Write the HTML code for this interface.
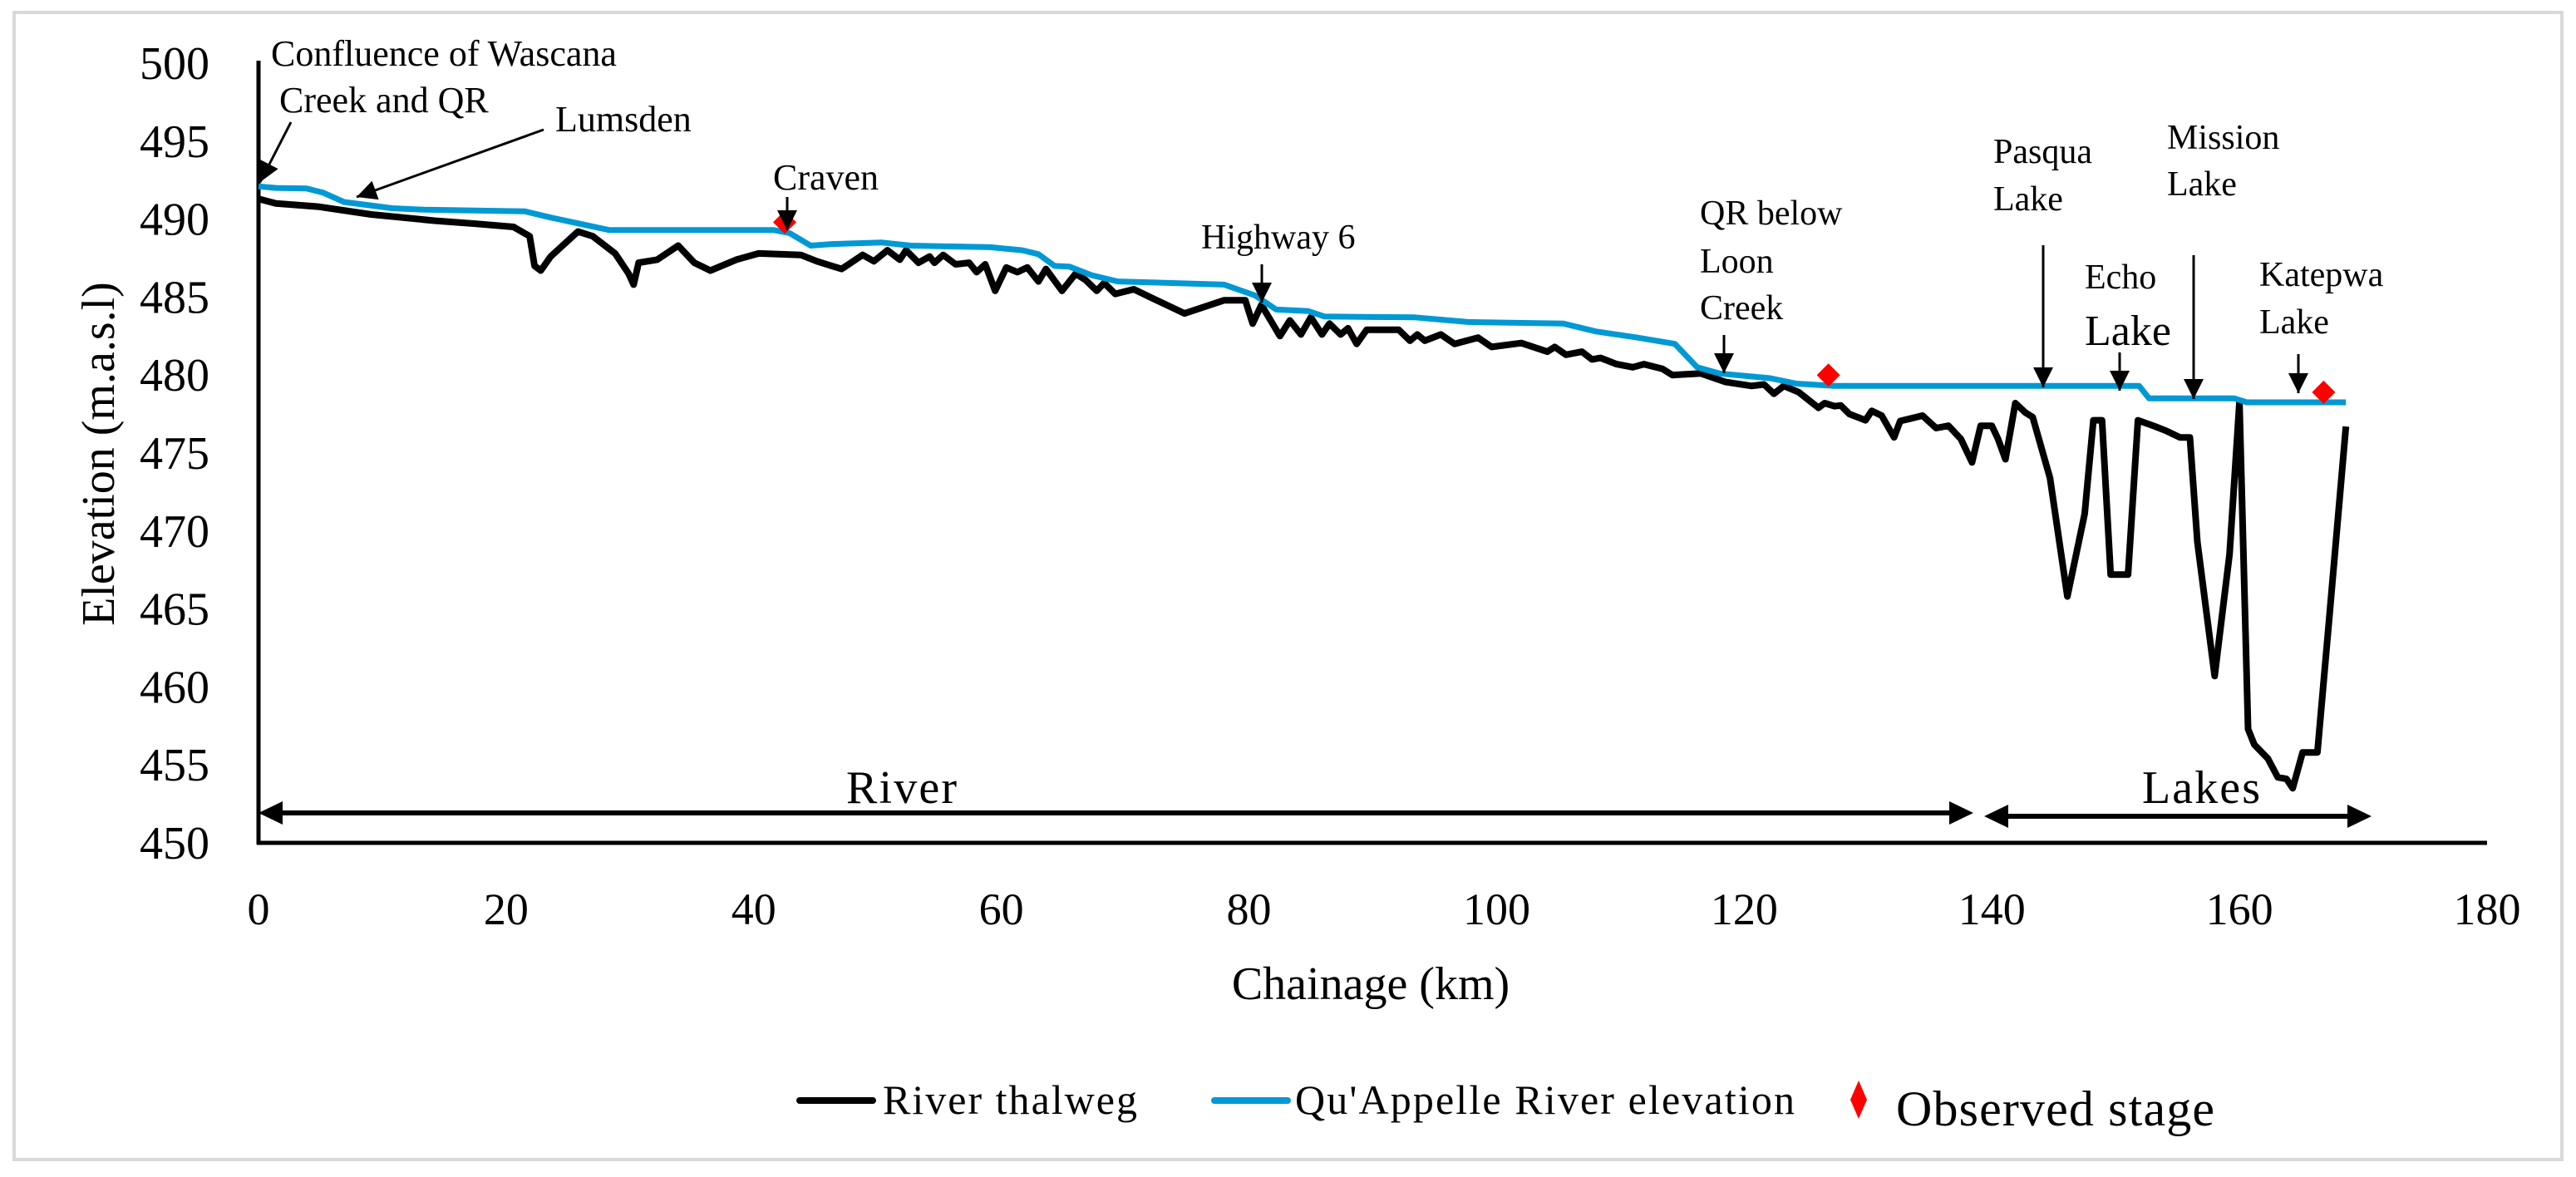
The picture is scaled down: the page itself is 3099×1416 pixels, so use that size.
<!DOCTYPE html>
<html><head><meta charset="utf-8"><style>
html,body{margin:0;padding:0;background:#fff}
svg{display:block}
svg text{font-family:"Liberation Serif",serif;fill:#000}
</style></head><body>
<svg id="chart" width="3099" height="1416" viewBox="0 0 3099 1416" xmlns="http://www.w3.org/2000/svg" font-family="Liberation Serif, serif">
<defs>
<marker id="ah" viewBox="0 0 10 10" refX="10" refY="5" markerWidth="26" markerHeight="24" markerUnits="userSpaceOnUse" orient="auto"><path d="M0,0 L10,5 L0,10 z" fill="#000"/></marker>
</defs>
<rect x="17" y="15" width="3065" height="1380" fill="#fff" stroke="#d9d9d9" stroke-width="4"/>
<g id="axes"></g>
<g id="series"></g>
<g id="annotations">
<text x="326" y="79" font-size="44">Confluence of Wascana</text>
<text x="336" y="135" font-size="44">Creek and QR</text>
<line x1="350" y1="147" x2="313" y2="219" stroke="#000" stroke-width="3" marker-end="url(#ah)"/>
<text x="668" y="158" font-size="44">Lumsden</text>
<line x1="654" y1="156" x2="429" y2="237" stroke="#000" stroke-width="3" marker-end="url(#ah)"/>
<text x="930" y="228" font-size="44">Craven</text>
<line x1="947" y1="237" x2="947" y2="277" stroke="#000" stroke-width="3" marker-end="url(#ah)"/>
<text x="1445" y="299" font-size="42">Highway 6</text>
<line x1="1518" y1="318" x2="1518" y2="364" stroke="#000" stroke-width="3" marker-end="url(#ah)"/>
<text x="2045" y="270" font-size="42">QR below</text>
<text x="2045" y="328" font-size="42">Loon</text>
<text x="2045" y="384" font-size="42">Creek</text>
<line x1="2074" y1="403" x2="2074" y2="449" stroke="#000" stroke-width="3" marker-end="url(#ah)"/>
<text x="2398" y="196" font-size="42">Pasqua</text>
<text x="2398" y="253" font-size="42">Lake</text>
<line x1="2458" y1="295" x2="2458" y2="466" stroke="#000" stroke-width="3" marker-end="url(#ah)"/>
<text x="2508" y="347" font-size="42">Echo</text>
<text x="2508" y="415" font-size="52">Lake</text>
<line x1="2550" y1="424" x2="2550" y2="470" stroke="#000" stroke-width="3" marker-end="url(#ah)"/>
<text x="2607" y="179" font-size="42">Mission</text>
<text x="2607" y="235" font-size="42">Lake</text>
<line x1="2639" y1="307" x2="2639" y2="480" stroke="#000" stroke-width="3" marker-end="url(#ah)"/>
<text x="2718" y="344" font-size="42">Katepwa</text>
<text x="2718" y="401" font-size="42">Lake</text>
<line x1="2765" y1="426" x2="2765" y2="473" stroke="#000" stroke-width="3" marker-end="url(#ah)"/>
<text x="1018" y="966" font-size="56" textLength="133">River</text>
<line x1="340" y1="978" x2="2345" y2="978" stroke="#000" stroke-width="6"/>
<path d="M311,978 L340,964 L340,992 z" fill="#000"/>
<path d="M2374,978 L2345,964 L2345,992 z" fill="#000"/>
<text x="2577" y="966" font-size="56" textLength="142">Lakes</text>
<line x1="2416" y1="982" x2="2824" y2="982" stroke="#000" stroke-width="6"/>
<path d="M2387,982 L2416,968 L2416,996 z" fill="#000"/>
<path d="M2853,982 L2824,968 L2824,996 z" fill="#000"/>
</g>
<g id="legend">
<line x1="962" y1="1324" x2="1050" y2="1324" stroke="#000" stroke-width="8" stroke-linecap="round"/>
<text x="1062" y="1340" font-size="50" textLength="306">River thalweg</text>
<line x1="1461" y1="1324" x2="1549" y2="1324" stroke="#0099d4" stroke-width="8" stroke-linecap="round"/>
<text x="1558" y="1340" font-size="50" textLength="601">Qu'Appelle River elevation</text>
<path d="M2236,1300 L2246,1323 L2236,1346 L2226,1323 z" fill="#ff0000"/>
<text x="2281" y="1354" font-size="60" textLength="383">Observed stage</text>
</g>
</svg>
<script>
const xTicks = [0,20,40,60,80,100,120,140,160,180];
const yTicks = [450,455,460,465,470,475,480,485,490,495,500];
const thalwegKm = [0,1.4,4.8,9.1,14.2,17.6,20.6,21.9,22.3,22.8,23.6,25.8,27.0,28.8,29.9,30.3,30.7,32.2,33.9,35.2,36.5,38.6,40.4,43.8,45.1,46.3,47.1,48.8,49.7,50.8,51.8,52.3,53.3,54.2,54.6,55.3,56.3,57.4,58.0,58.7,59.5,60.4,61.3,62.1,63.0,63.6,64.9,66.0,66.8,67.7,68.3,69.2,70.7,72.0,74.8,78.0,79.7,80.3,81.0,82.5,83.3,84.2,85.0,85.9,86.5,87.4,88.0,88.7,89.5,92.1,93.0,93.6,94.2,95.5,96.6,98.5,99.6,102.0,104.1,104.7,105.6,106.9,107.7,108.4,109.7,111.0,111.9,113.4,114.2,116.5,118.5,120.6,121.6,122.4,123.2,124.4,126.0,126.5,127.3,127.8,128.5,129.8,130.3,131.1,132.1,132.6,133.4,134.4,135.5,136.5,137.5,138.4,139.1,140.0,140.5,141.1,141.9,142.7,143.3,144.7,146.1,147.5,148.2,148.9,149.6,151.0,151.8,153.2,154.0,155.2,156.0,156.6,158.0,159.2,160.0,160.7,161.2,162.3,163.1,163.8,164.3,165.1,166.3,167.3,168.6];
const thalwegElev = [491.3,491.0,490.8,490.3,489.9,489.7,489.5,488.9,487.0,486.7,487.6,489.2,488.9,487.8,486.5,485.8,487.2,487.4,488.3,487.2,486.7,487.4,487.8,487.7,487.3,487.0,486.8,487.7,487.3,488.0,487.4,488.0,487.2,487.6,487.2,487.7,487.1,487.2,486.6,487.1,485.4,486.9,486.6,486.9,486.0,486.8,485.4,486.5,486.1,485.4,485.9,485.2,485.5,485.0,483.95,484.8,484.8,483.3,484.5,482.5,483.5,482.6,483.7,482.6,483.3,482.6,483.0,482.0,482.9,482.9,482.2,482.6,482.2,482.6,482.0,482.4,481.8,482.05,481.5,481.8,481.3,481.5,481.0,481.1,480.7,480.5,480.7,480.4,480.0,480.1,479.55,479.3,479.4,478.8,479.3,478.9,477.9,478.2,478.0,478.05,477.5,477.1,477.7,477.4,476.0,477.05,477.2,477.4,476.6,476.75,475.9,474.4,476.75,476.75,475.9,474.6,478.2,477.6,477.3,473.4,465.8,471.1,477.1,477.1,467.2,467.2,477.1,476.7,476.45,476.0,476.0,469.3,460.7,468.5,478.25,457.3,456.3,455.4,454.2,454.1,453.5,455.8,455.8,464.8,476.7];
const riverKm = [0,1.4,3.9,5.2,6.9,10.8,13.4,21.5,23.6,28.3,41.6,42.9,44.6,46.3,50.3,52.7,59.1,61.7,63.0,64.3,65.5,67.3,69.4,78.0,80.5,82.2,84.8,86.1,93.4,97.7,105.4,108.0,111.4,114.4,116.2,118.0,122.1,124.2,127.3,151.9,152.7,159.6,160.6,168.6];
const riverElev = [492.1,492.0,491.96,491.7,491.1,490.7,490.6,490.5,490.1,489.3,489.3,489.1,488.3,488.4,488.5,488.3,488.2,488.0,487.75,487.0,486.95,486.4,486.0,485.8,485.1,484.2,484.1,483.75,483.7,483.4,483.3,482.8,482.4,482.0,480.5,480.1,479.8,479.45,479.3,479.3,478.5,478.5,478.25,478.25];
const observedKm = [42.5,126.8,166.8];
const observedElev = [489.8,480.0,478.9];

const NS = 'http://www.w3.org/2000/svg';
const X0 = 311, X1 = 2992, Y0 = 1014, Y1 = 76;
function xs(v){ return X0 + (v - 0) / 180 * (X1 - X0); }
function ys(v){ return Y0 - (v - 450) / 50 * (Y0 - Y1); }
function mk(tag, attrs){ const e = document.createElementNS(NS, tag); for (const k in attrs) e.setAttribute(k, attrs[k]); return e; }
const axes = document.getElementById('axes');
const series = document.getElementById('series');

const yAxis = mk('line', {x1:X0, y1:Y1 - 3, x2:X0, y2:Y0 + 2, stroke:'#000', 'stroke-width':5});


axes.appendChild(yAxis);
const xAxis = mk('line', {x1:X0 - 2, y1:Y0, x2:X1, y2:Y0, stroke:'#000', 'stroke-width':5});


axes.appendChild(xAxis);

xTicks.forEach(function(t){
  const tx = mk('text', {x:xs(t), y:1112, 'font-size':54, 'text-anchor':'middle', 'font-family':'Liberation Serif, serif'});
  tx.textContent = t;
  
  
  axes.appendChild(tx);
});
yTicks.forEach(function(t){
  const tx = mk('text', {x:252, y:ys(t) + 19, 'font-size':56, 'text-anchor':'end', 'font-family':'Liberation Serif, serif'});
  tx.textContent = t;
  
  
  axes.appendChild(tx);
});
const xTitle = mk('text', {x:1649, y:1202, 'font-size':56, 'text-anchor':'middle', 'font-family':'Liberation Serif, serif'});
xTitle.textContent = 'Chainage (km)';


axes.appendChild(xTitle);
const yTitle = mk('text', {x:0, y:0, 'font-size':56, 'text-anchor':'middle', 'font-family':'Liberation Serif, serif', transform:'translate(137,546) rotate(-90)'});
yTitle.textContent = 'Elevation (m.a.s.l)';


axes.appendChild(yTitle);

function pts(k, e){ return k.map(function(v, i){ return xs(v).toFixed(1) + ',' + ys(e[i]).toFixed(1); }).join(' '); }
const thal = mk('polyline', {points:pts(thalwegKm, thalwegElev), fill:'none', stroke:'#000', 'stroke-width':8, 'stroke-linejoin':'round'});


series.appendChild(thal);
const riv = mk('polyline', {points:pts(riverKm, riverElev), fill:'none', stroke:'#0099d4', 'stroke-width':7, 'stroke-linejoin':'round'});


series.appendChild(riv);
observedKm.forEach(function(k, i){
  const cx = xs(k), cy = ys(observedElev[i]);
  const d = mk('path', {d:'M' + cx + ',' + (cy - 14) + ' L' + (cx + 14) + ',' + cy + ' L' + cx + ',' + (cy + 14) + ' L' + (cx - 14) + ',' + cy + ' z', fill:'#ff0000'});
  
  
  series.appendChild(d);
});
</script>
</body></html>
